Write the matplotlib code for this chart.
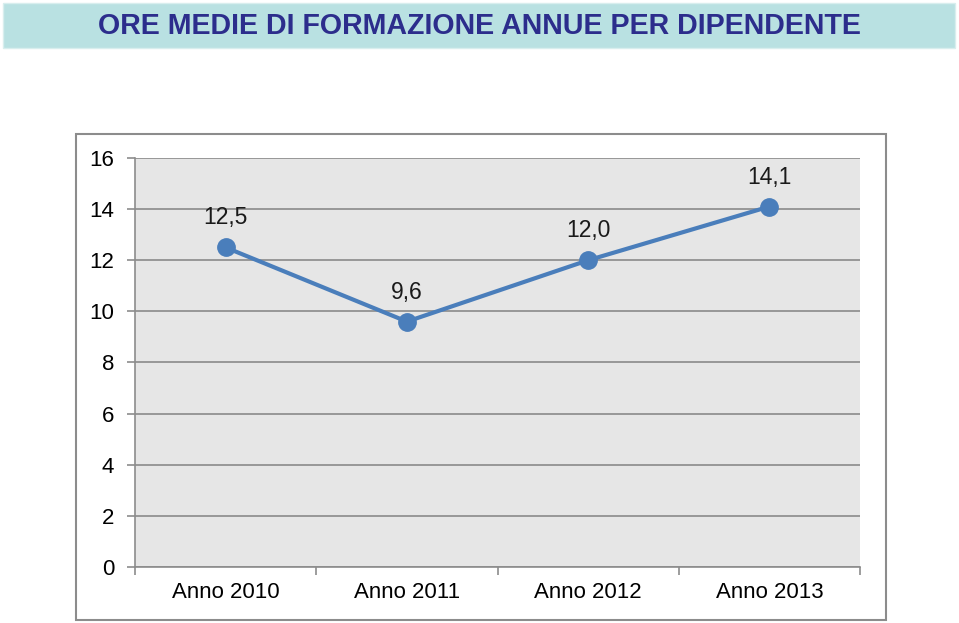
import matplotlib.pyplot as plt
from matplotlib.patches import Rectangle

categories = ["Anno 2010", "Anno 2011", "Anno 2012", "Anno 2013"]
hours = [12.5, 9.6, 12.0, 14.1]
yticks = [0, 2, 4, 6, 8, 10, 12, 14, 16]
title = "ORE MEDIE DI FORMAZIONE ANNUE PER DIPENDENTE"

plt.rcParams["font.family"] = ["Liberation Sans", "DejaVu Sans"]

fig = plt.figure(figsize=(9.59, 6.23), dpi=100)

# title banner
fig.patches.append(Rectangle((0.003, 0.923), 0.993, 0.072, transform=fig.transFigure,
                             facecolor="#b9e1e2", edgecolor="#d8eeee", lw=1, zorder=-2))
fig.text(0.5, 0.959, title, ha="center", va="center", fontsize=20.6, fontweight="bold",
         color="#2c2d8c")

# chart frame
fig.patches.append(Rectangle((0.0792, 0.005), 0.8446, 0.78, transform=fig.transFigure,
                             facecolor="white", edgecolor="#8c8c8c", lw=1.5, zorder=-2))

ax = fig.add_axes([0.1408, 0.0899, 0.756, 0.6565])
ax.set_facecolor("#e6e6e6")
x = list(range(len(categories)))
ax.plot(x, hours, color="#4a7ebb", lw=3, marker="o", markersize=12.5, zorder=3)
for xi, v in zip(x, hours):
    ax.annotate(f"{v:.1f}".replace(".", ","), (xi, v), xytext=(0, 13), textcoords="offset points",
                ha="center", va="bottom", fontsize=16.5, color="#1a1a1a")

ax.set_xlim(-0.5, len(categories) - 0.5)
ax.set_ylim(0, 16)
ax.set_yticks(yticks)
ax.set_yticklabels([str(t) for t in yticks], fontsize=16)
ax.set_xticks(x)
ax.set_xticklabels(categories, fontsize=16)
ax.tick_params(axis="x", length=0, pad=11)
ax.set_xticks([i + 0.5 for i in range(-1, len(categories))], minor=True)
ax.tick_params(axis="x", which="minor", length=6, color="#8c8c8c", width=1.2)
ax.tick_params(axis="y", length=6, color="#8c8c8c", width=1.2, pad=9)
ax.grid(axis="y", color="#8a8a8a", lw=1.2)
ax.set_axisbelow(True)
for s in ["top", "right"]:
    ax.spines[s].set_visible(False)
ax.spines["left"].set_color("#8c8c8c")
ax.spines["bottom"].set_color("#8c8c8c")
ax.spines["left"].set_linewidth(1.2)
ax.spines["bottom"].set_linewidth(1.2)

fig.savefig("out.png", dpi=100)
